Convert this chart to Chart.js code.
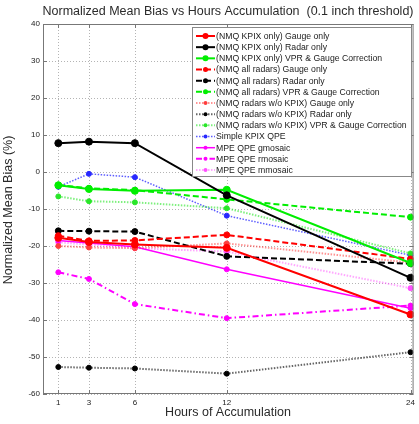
<!DOCTYPE html>
<html>
<head>
<meta charset="utf-8">
<script src="https://cdn.jsdelivr.net/npm/chart.js@4"></script>
<style>
  html, body { margin: 0; padding: 0; background: #fff; }
  #wrap { width: 419px; height: 424px; }
</style>
</head>
<body>
<div id="wrap"><canvas id="grafico" width="419" height="424"></canvas></div>
<script>
// horas de acumulação (eixo x)
const hours = [1, 3, 6, 12, 24];
const yTicks = [40, 30, 20, 10, 0, -10, -20, -30, -40, -50, -60];

// viés médio normalizado (%) por produto
const kpixGauge  = [-17.8, -18.9, -19.6, -20.5, -38.5];
const kpixRadar  = [7.8, 8.2, 7.8, -6.3, -28.6];
const kpixVpr    = [-3.6, -4.6, -5.1, -4.8, -24.6];
const allGauge   = [-17.2, -18.6, -18.5, -17.0, -23.5];
const allRadar   = [-15.9, -16.0, -16.1, -22.8, -24.8];
const allVpr     = [-3.5, -4.4, -4.9, -7.4, -12.2];
const woGauge    = [-20.0, -20.4, -20.6, -19.3, -24.5];
const woRadar    = [-52.7, -52.9, -53.1, -54.5, -48.7];
const woVpr      = [-6.6, -7.9, -8.2, -9.8, -22.0];
const simpleKpix = [-4.0, -0.5, -1.4, -11.8, -22.5];
const mpeG       = [-18.5, -19.2, -20.2, -26.3, -36.8];
const mpeR       = [-27.1, -28.9, -35.7, -39.5, -36.1];
const mpeM       = [-19.0, -19.6, -20.6, -21.5, -31.4];

const FONT = '"Liberation Sans", Arial, sans-serif';

function serie(label, values, color, dash, width, radius) {
    return {
        label: label,
        data: values.map((v, i) => ({ x: hours[i], y: v })),
        borderColor: color,
        backgroundColor: color,
        borderWidth: width,
        borderDash: dash,
        pointRadius: radius,
        pointBorderWidth: 1,
        tension: 0,
        fill: false
    };
}

const datasets = [
    serie('(NMQ KPIX only) Gauge only', kpixGauge, '#ff0000', [], 2, 3.5),
    serie('(NMQ KPIX only) Radar only', kpixRadar, '#000000', [], 2, 3.5),
    serie('(NMQ KPIX only) VPR & Gauge Correction', kpixVpr, '#00ee00', [], 2, 3.5),
    serie('(NMQ all radars) Gauge only', allGauge, '#ff0000', [6, 3], 2, 3),
    serie('(NMQ all radars) Radar only', allRadar, '#000000', [6, 3], 2, 3),
    serie('(NMQ all radars) VPR & Gauge Correction', allVpr, '#00ee00', [6, 3], 2, 3),
    serie('(NMQ radars w/o KPIX) Gauge only', woGauge, 'rgba(255,60,60,0.55)', [1.5, 1.5], 2, 2.5),
    serie('(NMQ radars w/o KPIX) Radar only', woRadar, 'rgba(0,0,0,0.6)', [1.5, 1.5], 2, 2.5),
    serie('(NMQ radars w/o KPIX) VPR & Gauge Correction', woVpr, 'rgba(40,230,40,0.6)', [1.5, 1.5], 2, 2.5),
    serie('Simple KPIX QPE', simpleKpix, 'rgba(40,40,255,0.75)', [1.5, 1.5], 1.5, 2.5),
    serie('MPE QPE gmosaic', mpeG, '#ff00ff', [], 1.5, 2.5),
    serie('MPE QPE rmosaic', mpeR, '#ff00ff', [6, 3, 1.5, 3], 2, 2.5),
    serie('MPE QPE mmosaic', mpeM, 'rgba(255,80,255,0.5)', [1.5, 1.5], 2, 2.5)
];
// pontos sempre opacos, mesmo nas linhas pontilhadas
datasets.forEach(d => {
    const c = d.borderColor.startsWith('rgba') ? d.borderColor.replace(/,[\d.]+\)$/, ',1)') : d.borderColor;
    d.pointBackgroundColor = c;
    d.pointBorderColor = c;
});

// grade pontilhada, moldura, título e legenda à moda do matlab
const matlabLook = {
    id: 'matlabLook',
    beforeDatasetsDraw(chart) {
        const ctx = chart.ctx;
        const a = chart.chartArea;
        const xs = chart.scales.x, ys = chart.scales.y;
        ctx.save();
        ctx.strokeStyle = '#b4b4b4';
        ctx.lineWidth = 1;
        ctx.setLineDash([1, 2]);
        hours.forEach(h => {
            const px = Math.round(xs.getPixelForValue(h)) + 0.5;
            ctx.beginPath(); ctx.moveTo(px, a.top); ctx.lineTo(px, a.bottom); ctx.stroke();
        });
        yTicks.forEach(v => {
            const py = Math.round(ys.getPixelForValue(v)) + 0.5;
            ctx.beginPath(); ctx.moveTo(a.left, py); ctx.lineTo(a.right, py); ctx.stroke();
        });
        ctx.setLineDash([]);
        // marcas de escala para dentro
        ctx.strokeStyle = '#777';
        hours.forEach(h => {
            const px = Math.round(xs.getPixelForValue(h)) + 0.5;
            ctx.beginPath(); ctx.moveTo(px, a.top); ctx.lineTo(px, a.top + 4);
            ctx.moveTo(px, a.bottom); ctx.lineTo(px, a.bottom - 4); ctx.stroke();
        });
        yTicks.forEach(v => {
            const py = Math.round(ys.getPixelForValue(v)) + 0.5;
            ctx.beginPath(); ctx.moveTo(a.left, py); ctx.lineTo(a.left + 4, py);
            ctx.moveTo(a.right, py); ctx.lineTo(a.right - 4, py); ctx.stroke();
        });
        ctx.restore();
    },
    afterDraw(chart) {
        const ctx = chart.ctx;
        const a = chart.chartArea;
        ctx.save();

        ctx.fillStyle = '#2a2a2a';
        ctx.font = '12.5px ' + FONT;
        ctx.textAlign = 'center';
        ctx.textBaseline = 'middle';
        ctx.fillText('Normalized Mean Bias vs Hours Accumulation  (0.1 inch threshold)', 228, 12);

        ctx.fillText('Hours of Accumulation', 228, 413);
        ctx.save();
        ctx.translate(9, 210);
        ctx.rotate(-Math.PI / 2);
        ctx.fillText('Normalized Mean Bias (%)', 0, 0);
        ctx.restore();

        ctx.strokeStyle = '#777';
        ctx.lineWidth = 1;
        ctx.strokeRect(a.left + 0.5, a.top + 0.5, a.right - a.left - 1, a.bottom - a.top - 1);

        // legenda
        const bx = 192, by = 27, bw = 219, bh = 149;
        ctx.fillStyle = '#fff';
        ctx.fillRect(bx, by, bw, bh);
        ctx.strokeStyle = '#888';
        ctx.strokeRect(bx + 0.5, by + 0.5, bw, bh);
        ctx.font = '8.7px ' + FONT;
        ctx.textAlign = 'left';
        chart.data.datasets.forEach((d, i) => {
            const y = 36 + i * 11.17;
            ctx.strokeStyle = d.borderColor;
            ctx.lineWidth = d.borderWidth;
            ctx.setLineDash(d.borderDash);
            ctx.beginPath();
            ctx.moveTo(196, y);
            ctx.lineTo(215, y);
            ctx.stroke();
            ctx.setLineDash([]);
            ctx.fillStyle = d.pointBackgroundColor;
            ctx.beginPath();
            ctx.arc(205.5, y, d.pointRadius - 0.5, 0, Math.PI * 2);
            ctx.fill();
            ctx.fillStyle = '#222';
            ctx.fillText(d.label, 216, y + 0.5);
        });
        ctx.restore();
    }
};

new Chart(document.getElementById('grafico'), {
    type: 'line',
    data: { datasets: datasets },
    plugins: [matlabLook],
    options: {
        responsive: false,
        animation: false,
        layout: { padding: { top: 24, right: 3, left: 0, bottom: 0 } },
        plugins: { legend: { display: false }, tooltip: { enabled: false } },
        scales: {
            x: {
                type: 'linear',
                min: 0,
                max: 24.2,
                afterBuildTicks: scale => { scale.ticks = hours.map(h => ({ value: h })); },
                afterFit: scale => { scale.height = 30; },
                grid: { display: false, drawTicks: false },
                border: { display: false },
                ticks: { color: '#222', font: { family: FONT, size: 8 }, padding: 4, maxRotation: 0 }
            },
            y: {
                min: -60,
                max: 40,
                afterBuildTicks: scale => { scale.ticks = yTicks.map(v => ({ value: v })); },
                afterFit: scale => { scale.width = 43; },
                grid: { display: false, drawTicks: false },
                border: { display: false },
                ticks: { color: '#222', font: { family: FONT, size: 8 }, padding: 3 }
            }
        }
    }
});
</script>
</body>
</html>
